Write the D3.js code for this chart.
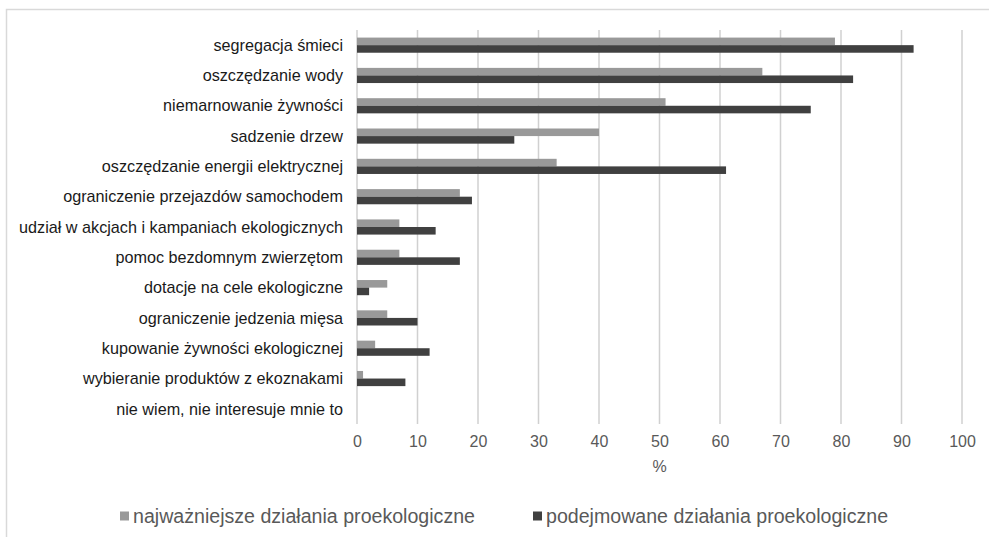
<!DOCTYPE html>
<html>
<head>
<meta charset="utf-8">
<script src="https://cdn.jsdelivr.net/npm/d3@7/dist/d3.min.js"></script>
<style>
  html, body { margin: 0; padding: 0; background: #ffffff; }
  svg { display: block; font-family: "Liberation Sans", Arial, sans-serif; }
</style>
</head>
<body>
<svg id="chart" width="989" height="537"></svg>
<script>
const categories = [
  "segregacja śmieci",
  "oszczędzanie wody",
  "niemarnowanie żywności",
  "sadzenie drzew",
  "oszczędzanie energii elektrycznej",
  "ograniczenie przejazdów samochodem",
  "udział w akcjach i kampaniach ekologicznych",
  "pomoc bezdomnym zwierzętom",
  "dotacje na cele ekologiczne",
  "ograniczenie jedzenia mięsa",
  "kupowanie żywności ekologicznej",
  "wybieranie produktów z ekoznakami",
  "nie wiem, nie interesuje mnie to"
];
const seriesNames = ["najważniejsze działania proekologiczne", "podejmowane działania proekologiczne"];
const najwazniejsze = [79, 67, 51, 40, 33, 17, 7, 7, 5, 5, 3, 1, 0];
const podejmowane   = [92, 82, 75, 26, 61, 19, 13, 17, 2, 10, 12, 8, 0];
const xTicks = [0, 10, 20, 30, 40, 50, 60, 70, 80, 90, 100];
const axisTitle = "%";

const colors = ["#999999", "#404040"];
const series = [najwazniejsze, podejmowane];

const svg = d3.select("#chart");

// outer frame
svg.append("path")
  .attr("d", "M6.5,540 L6.5,9.5 L995,9.5")
  .attr("fill", "none")
  .attr("stroke", "#d9d9d9")
  .attr("stroke-width", 1.5);

const plot = { left: 357, right: 962, top: 30, bottom: 424 };

const x = d3.scaleLinear().domain([0, 100]).range([plot.left, plot.right]);
const y = d3.scaleBand().domain(categories).range([plot.top, plot.bottom]).paddingInner(0.5).paddingOuter(0.25);
const ySub = d3.scaleBand().domain([0, 1]).range([0, y.bandwidth()]);

// gridlines
svg.append("g")
  .selectAll("line")
  .data(xTicks)
  .join("line")
  .attr("x1", d => x(d)).attr("x2", d => x(d))
  .attr("y1", plot.top).attr("y2", plot.bottom)
  .attr("stroke", "#d0d0d0")
  .attr("stroke-width", 1.5);

// bars
const groups = svg.append("g")
  .selectAll("g")
  .data(categories)
  .join("g")
  .attr("transform", d => `translate(0,${y(d)})`);

groups.selectAll("rect")
  .data((d, i) => series.map((s, si) => ({ v: s[i], si })))
  .join("rect")
  .attr("x", x(0))
  .attr("y", d => ySub(d.si))
  .attr("width", d => x(d.v) - x(0))
  .attr("height", ySub.bandwidth())
  .attr("fill", d => colors[d.si]);

// category labels
svg.append("g")
  .selectAll("text")
  .data(categories)
  .join("text")
  .attr("x", 343)
  .attr("y", d => y(d) + y.bandwidth() / 2)
  .attr("dy", "0.35em")
  .attr("text-anchor", "end")
  .attr("font-size", 16.2)
  .attr("fill", "#1a1a1a")
  .text(d => d);

// x axis tick labels
const xAxis = d3.axisBottom(x).tickValues(xTicks).tickSize(0).tickPadding(0).tickFormat(d3.format("d"));
const gx = svg.append("g").attr("transform", `translate(0,${plot.bottom})`).call(xAxis);
gx.select(".domain").remove();
gx.selectAll("text")
  .attr("y", 17.5)
  .attr("dy", "0.35em")
  .attr("font-size", 16)
  .attr("font-family", "'Liberation Sans', Arial, sans-serif")
  .attr("fill", "#595959");

// axis title
svg.append("text")
  .attr("x", (plot.left + plot.right) / 2)
  .attr("y", 466)
  .attr("dy", "0.35em")
  .attr("text-anchor", "middle")
  .attr("font-size", 16)
  .attr("fill", "#595959")
  .text(axisTitle);

// legend
const legendX = [120, 533];
const legend = svg.append("g")
  .selectAll("g")
  .data(seriesNames)
  .join("g")
  .attr("transform", (d, i) => `translate(${legendX[i]},516)`);
legend.append("rect")
  .attr("x", 0).attr("y", -4.5)
  .attr("width", 9).attr("height", 9)
  .attr("fill", (d, i) => colors[i]);
legend.append("text")
  .attr("x", 13)
  .attr("dy", "0.35em")
  .attr("font-size", 19.6)
  .attr("fill", "#595959")
  .text(d => d);
</script>
</body>
</html>
